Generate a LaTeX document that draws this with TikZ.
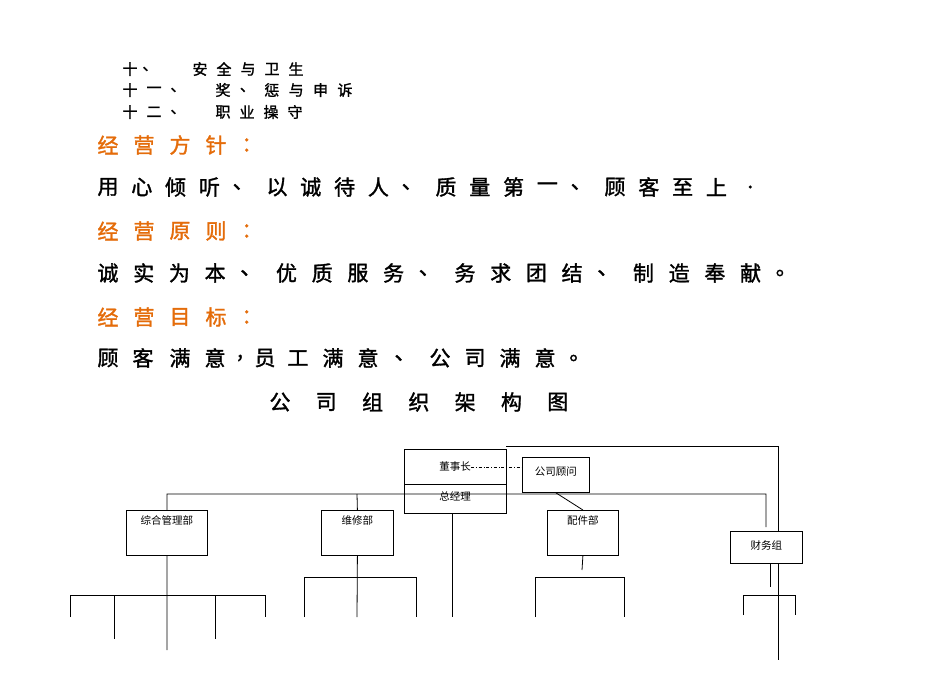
\documentclass[tikz,border=0pt]{standalone}
\usepackage{fontspec}
\newfontfamily\cjk{Noto Sans CJK SC}
\newfontfamily\cjkb{Noto Sans CJK SC}[FakeBold=1.5]
\definecolor{orangeh}{HTML}{E46C0A}
\tikzset{
  ch/.style={inner sep=0pt,font=\cjkb\fontsize{21}{21}\selectfont},
  sm/.style={inner sep=0pt,font=\cjkb\fontsize{15}{15}\selectfont},
  box/.style={draw,line width=0.8pt,inner sep=0pt,anchor=north west},
  lbl/.style={inner sep=0pt,font=\cjk\fontsize{10.5}{10.5}\selectfont},
  ln/.style={line width=0.8pt},
}
\begin{document}
\begin{tikzpicture}[x=1pt,y=-1pt]
\useasboundingbox (0,0) rectangle (950,672);
% top list
\node[sm] (l1a) at (130,69) {十}; \node[sm] (l1b) at (150,69) {、};
\foreach \c [count=\i] in {安,全,与,卫,生} \node[sm] (t1\i) at (200+24*\i-24,69) {\c};
\foreach \c [count=\i] in {十,一,、} \node[sm] (t2a\i) at (130+24*\i-24,90) {\c};
\foreach \c [count=\i] in {奖,、,惩,与,申,诉} \node[sm] (t2\i) at (223+24.4*\i-24.4,90) {\c};
\foreach \c [count=\i] in {十,二,、} \node[sm] (t3a\i) at (130+24*\i-24,112) {\c};
\foreach \c [count=\i] in {职,业,操,守} \node[sm] (t3\i) at (223+24*\i-24,112) {\c};
% headings
\foreach \c [count=\i] in {经,营,方,针,：} \node[ch,text=orangeh] (h1\i) at (108+36*\i-36,145) {\c};
\foreach \c [count=\i] in {用,心,倾,听,、,以,诚,待,人,、,质,量,第,一,、,顾,客,至,上,.} \node[ch] (a\i) at (108+33.8*\i-33.8,187) {\c};
\foreach \c [count=\i] in {经,营,原,则,：} \node[ch,text=orangeh] (h2\i) at (108+36*\i-36,231) {\c};
\foreach \c [count=\i] in {诚,实,为,本,、,优,质,服,务,、,务,求,团,结,、,制,造,奉,献,。} \node[ch] (b\i) at (108+35.7*\i-35.7,273) {\c};
\foreach \c [count=\i] in {经,营,目,标,：} \node[ch,text=orangeh] (h3\i) at (108+36*\i-36,317) {\c};
\foreach \c/\x [count=\i] in {顾/108,客/143,满/180,意/215,{,}/240,员/265,工/298,满/333,意/368,、/405,公/440,司/475,满/510,意/545,。/580} \node[ch] (c\i) at (\x,358) {\c};
\foreach \c [count=\i] in {公,司,组,织,架,构,图} \node[ch] (g\i) at (280+46.3*\i-46.3,402) {\c};
% boxes
\node[box,minimum width=102pt,minimum height=64pt] (top) at (404,449) {};
\draw[ln] (404,484) -- (506,484);
\node[lbl] (dsz) at (455,467) {董事长};
\node[lbl] (zjl) at (455,496) {总经理};
\node[box,minimum width=67pt,minimum height=35pt] (gw) at (522,457) {};
\node[lbl] at (gw.center) [yshift=3pt] {公司顾问};
\node[box,minimum width=81pt,minimum height=45pt] (zh) at (126,510) {};
\node[lbl,below=5pt] at (zh.north) {综合管理部};
\node[box,minimum width=72pt,minimum height=45pt] (wx) at (321,510) {};
\node[lbl,below=5pt] at (wx.north) {维修部};
\node[box,minimum width=71pt,minimum height=45pt] (pj) at (547,510) {};
\node[lbl,below=5pt] at (pj.north) {配件部};
\node[box,minimum width=72pt,minimum height=32pt] (cw) at (730,531) {};
\node[lbl] at (cw.center) [yshift=2pt] {财务组};
% connectors
\draw[line width=0.6pt,dash dot] (dsz.east) -- (522,467);
\draw[ln] (506,446) -- (778,446) -- (778,531);
\draw[ln] (778,563) -- (778,660);
\draw[ln] (zh.north) -- (167,494) -- (766,494) -- (766,527);
\draw[ln] (wx.north) -- (357,494);
\draw[ln] (gw.south) -- (pj.north);
\draw[ln] (452,513) -- (452,617);
\draw[ln] (zh.south) -- (167,650);
\draw[ln] (70,617) -- (70,595) -- (265,595) -- (265,617);
\draw[ln] (114,595) -- (114,639); \draw[ln] (215,595) -- (215,639);
\draw[ln] (wx.south) -- (357,617);
\draw[ln] (304,617) -- (304,577) -- (416,577) -- (416,617);
\draw[ln] (pj.south) -- (582,570);
\draw[ln] (535,617) -- (535,577) -- (624,577) -- (624,617);
\draw[ln] (770,563) -- (770,587);
\draw[ln] (743,615) -- (743,595) -- (795,595) -- (795,615);
\end{tikzpicture}
\end{document}
